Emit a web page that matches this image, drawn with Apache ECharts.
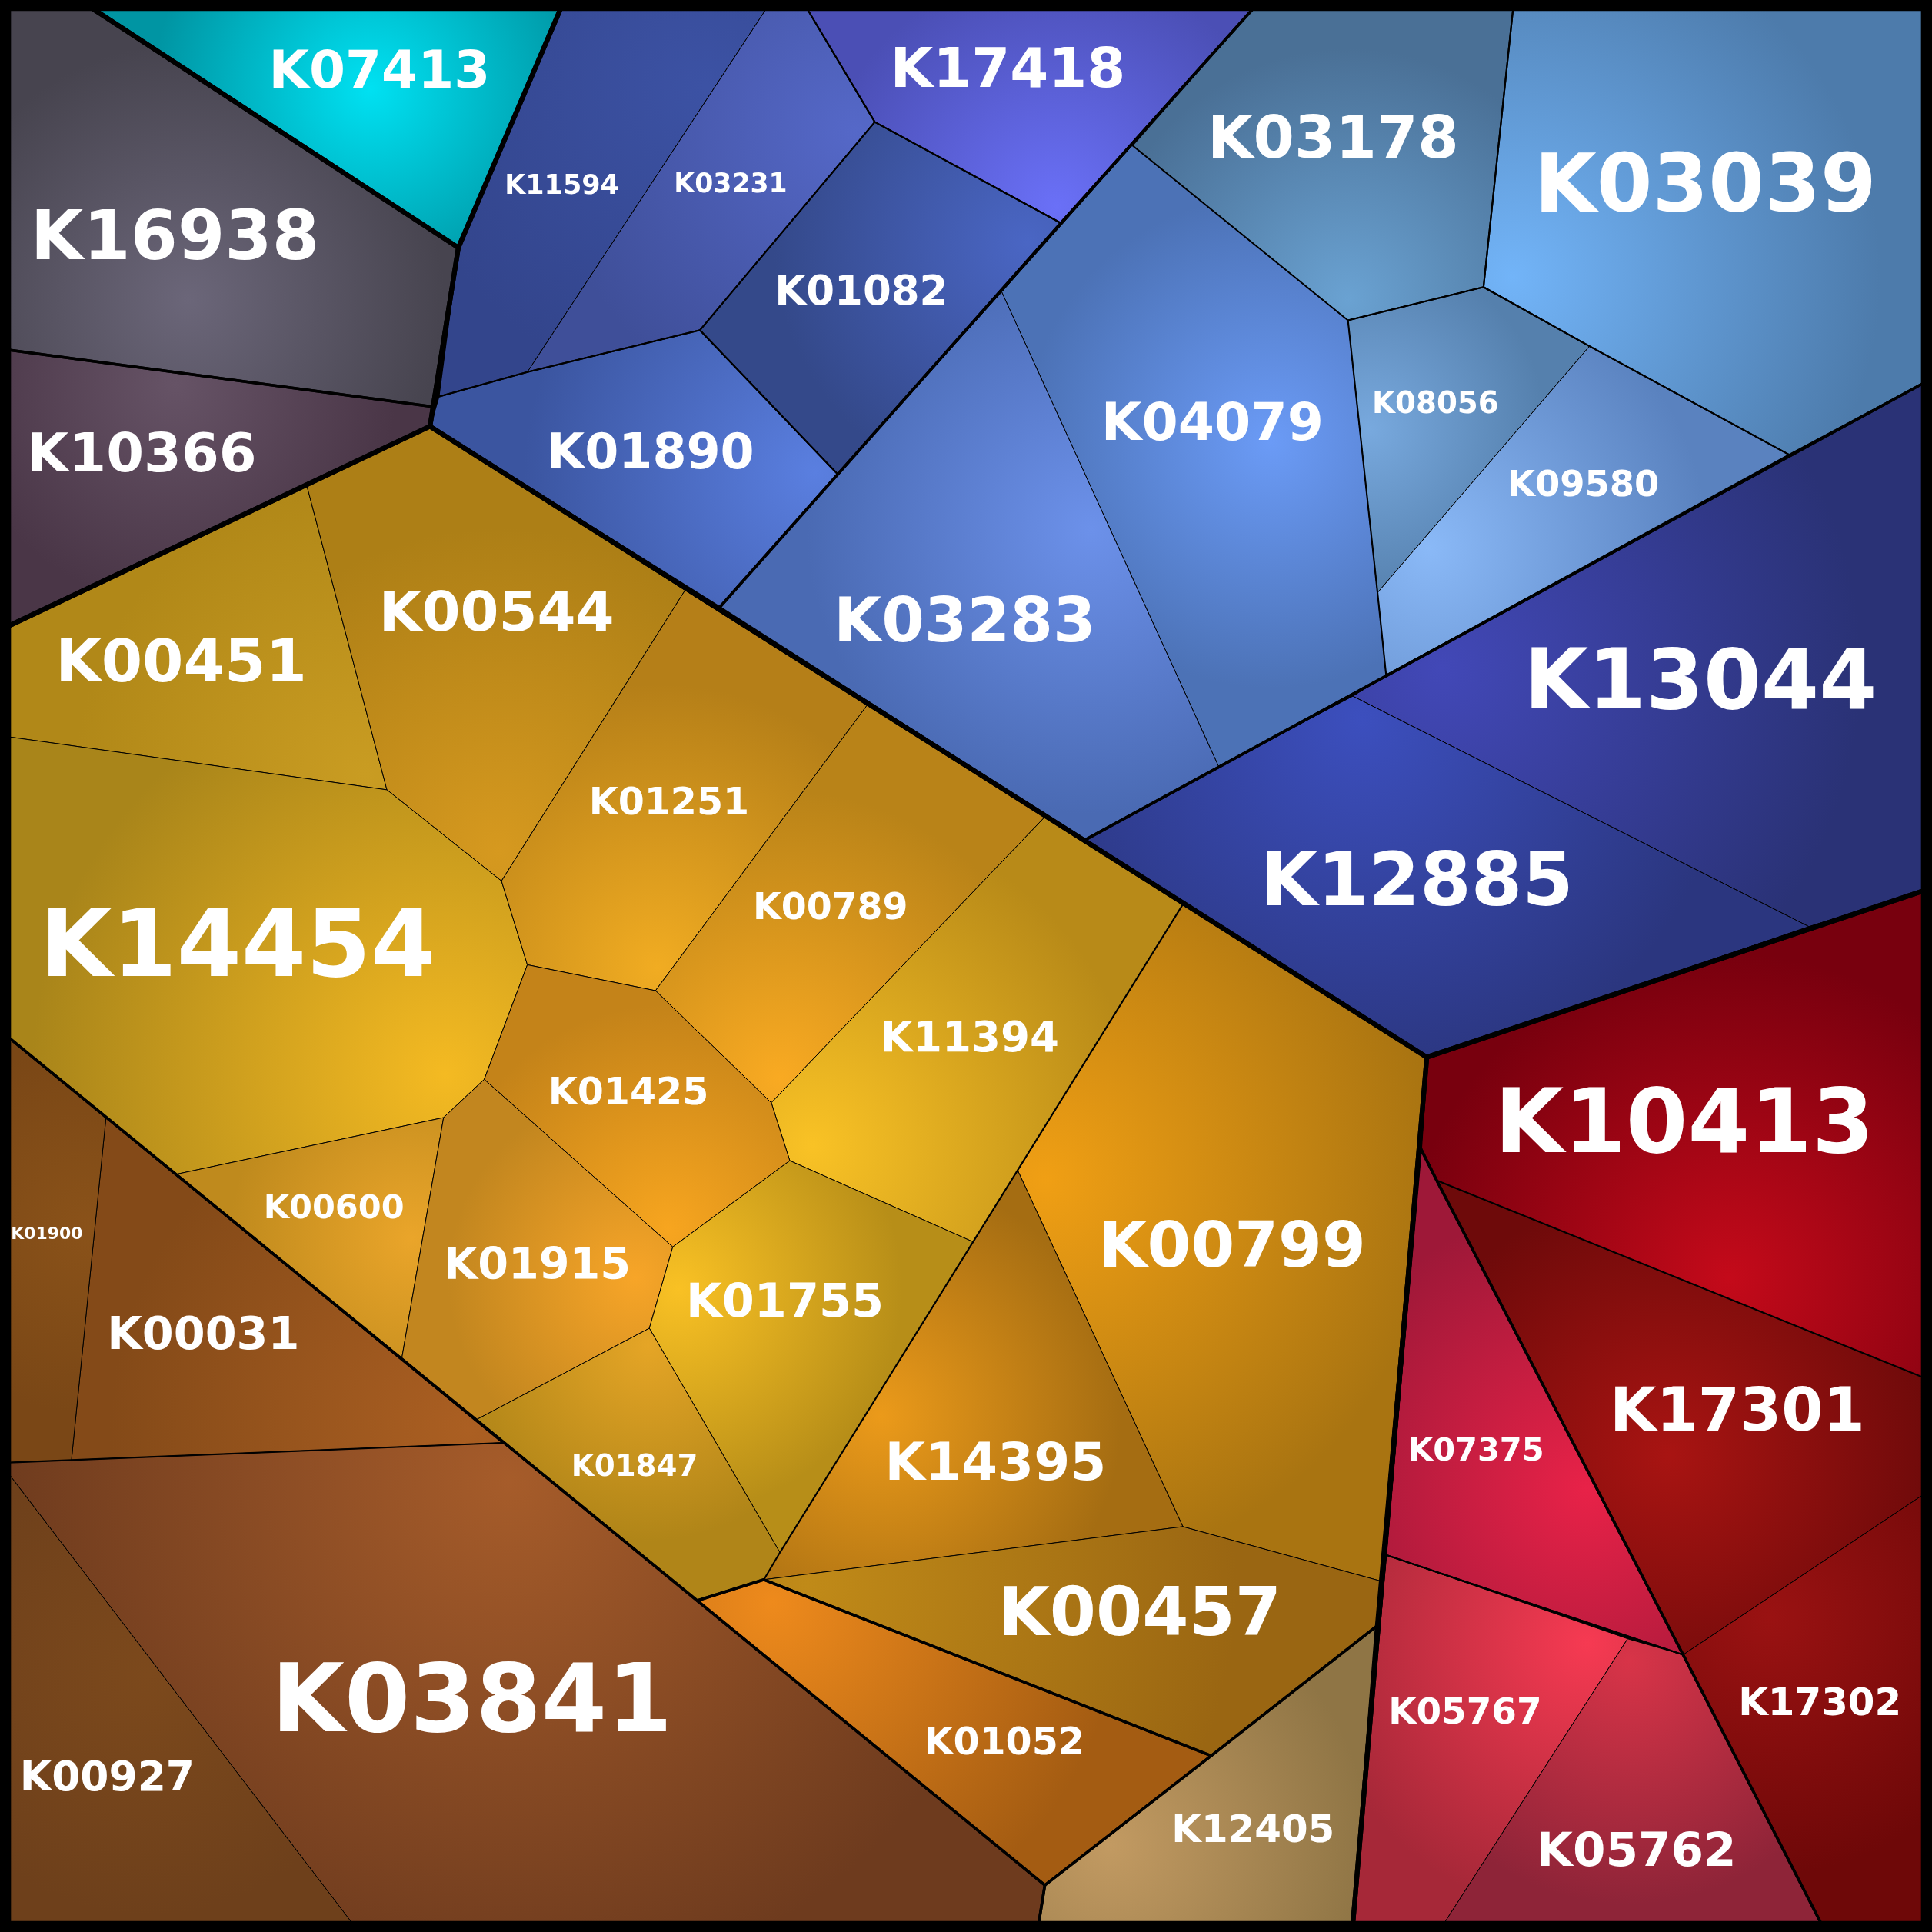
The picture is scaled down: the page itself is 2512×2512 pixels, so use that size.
<!DOCTYPE html>
<html><head><meta charset="utf-8">
<script src="https://cdn.jsdelivr.net/npm/echarts@6/dist/echarts.min.js"></script>
<style>html,body{margin:0;padding:0;background:#000}#c{width:2512px;height:2512px}</style>
</head><body><div id="c"></div>
<script>
// ---- DATA (coordinates in the layout's own 0..1568 units) ----
const names = ["K16938","K07413","K10366","K11594","K03231","K17418","K01082","K01890","K03178","K03039","K04079","K08056","K09580","K03283","K13044","K12885","K00451","K00544","K14454","K01251","K00789","K11394","K01425","K00600","K01915","K01755","K01847","K00799","K14395","K00457","K01052","K12405","K00031","K01900","K03841","K00927","K10413","K17301","K17302","K07375","K05767","K05762"];
const topGroup = ["grey","cyan","grey","blue","blue","blue","blue","blue","blue","blue","blue","blue","blue","blue","blue","blue","orange","orange","orange","orange","orange","orange","orange","orange","orange","orange","orange","orange","orange","orange","orange","orange","orange","orange","orange","orange","red","red","red","red","red","red"];
const values = [54,41.4,43,21.4,21.2,44,32.4,38.8,47,64,41.6,23.7,28.4,49,66,58.5,47,44,74,30,29,33.4,30,26.3,35,37,23.7,50,41.4,53,30,30.5,36,13.4,75,32.7,71,47.7,30.5,25.4,28.7,37.4];
const polygons = [
 [[7,7],[75,7],[372,201],[351,330],[7,284]],
 [[75,7],[455,7],[372,201]],
 [[7,284],[351,330],[349,346],[7,508]],
 [[372,201],[455,7],[622,7],[428,302],[356,322]],
 [[622,7],[655,7],[710,99],[568,268],[428,302]],
 [[655,7],[1017,7],[861,181],[710,99]],
 [[710,99],[861,181],[680,385],[568,268]],
 [[356,322],[428,302],[568,268],[680,385],[584,493],[349,346]],
 [[1017,7],[1228,7],[1204,233],[1094,260],[919,118]],
 [[1228,7],[1561,7],[1561,311],[1452,369],[1290,281],[1204,233]],
 [[919,118],[1094,260],[1118,481],[1125,548],[989,622],[813,237]],
 [[1094,260],[1204,233],[1290,281],[1118,481]],
 [[1290,281],[1452,369],[1125,548],[1118,481]],
 [[680,385],[813,237],[989,622],[880,682],[584,493]],
 [[1125,548],[1452,369],[1561,311],[1561,723],[1468,752],[1098,565]],
 [[880,682],[989,622],[1098,565],[1468,752],[1158,858]],
 [[7,508],[249,394],[314,641],[7,598]],
 [[249,394],[349,346],[556,479],[407,715],[314,641]],
 [[7,598],[314,641],[407,715],[428,783],[393,876],[360,907],[143,953],[7,842]],
 [[556,479],[704,572],[532,804],[428,783],[407,715]],
 [[704,572],[848,663],[626,895],[532,804]],
 [[848,663],[960,734],[790,1008],[641,942],[626,895]],
 [[428,783],[532,804],[626,895],[641,942],[546,1012],[393,876]],
 [[143,953],[360,907],[326,1103]],
 [[360,907],[393,876],[546,1012],[527,1078],[387,1152],[326,1103]],
 [[546,1012],[641,942],[790,1008],[633,1260],[527,1078]],
 [[387,1152],[527,1078],[633,1260],[620,1282],[566,1299]],
 [[960,734],[1158,858],[1120,1283],[960,1239],[826,950]],
 [[826,950],[960,1239],[620,1282],[633,1260],[790,1008]],
 [[620,1282],[960,1239],[1120,1283],[1117,1320],[983,1425]],
 [[566,1299],[620,1282],[983,1425],[848,1530]],
 [[848,1530],[983,1425],[1117,1320],[1098,1561],[843,1561]],
 [[86,907],[408,1171],[58,1185]],
 [[7,842],[86,907],[58,1185],[7,1187]],
 [[7,1187],[58,1185],[408,1171],[848,1530],[843,1561],[286,1561],[7,1196]],
 [[7,1196],[286,1561],[7,1561]],
 [[1158,858],[1561,723],[1561,1118],[1166,958],[1153,932]],
 [[1166,958],[1561,1118],[1561,1213],[1366,1343]],
 [[1366,1343],[1561,1213],[1561,1561],[1478,1561]],
 [[1153,932],[1166,958],[1366,1343],[1125,1262]],
 [[1125,1262],[1321,1330],[1172,1561],[1098,1561]],
 [[1321,1330],[1366,1343],[1478,1561],[1172,1561]]
];
const sites = [[142,192],[308,57],[115,368],[456,150],[593,149],[818,56],[699,236],[528,367],[1082,112],[1384,150],[984,343],[1165,327],[1285,393],[783,504],[1380,553],[1150,715],[147,537],[403,497],[193,767],[543,651],[674,736],[787,842],[510,886],[271,980],[436,1026],[637,1056],[515,1190],[1000,1011],[808,1187],[925,1309],[815,1414],[1017,1485],[165,1083],[38,1001],[383,1380],[87,1442],[1367,911],[1410,1145],[1477,1382],[1198,1177],[1189,1389],[1328,1502]];
const centerColors = ["#6b6679","#00e1f2","#665366","#3c52a4","#5568c8","#6a70f7","#4a66c4","#5a7fe0","#6aa2d2","#72b4f8","#6b9bf6","#78a9de","#8ab9f7","#6c91ea","#4248b7","#3c4fbe","#c99c22","#d6991f","#f4ba22","#f1ac22","#f9aa22","#f9c225","#f7a51f","#eaa52a","#f7a528","#f9c124","#e5a526","#f09f14","#eb9a1a","#c08a18","#ee8a1c","#c29a62","#ab5f22","#8a5219","#a65c2a","#7c491c","#c40a1a","#a81412","#9a1212","#e82248","#f63a52","#d83448"];
const edgeColors = ["#47444f","#0095a3","#4a3647","#33458c","#3f4f99","#4b4fb5","#34498a","#3b55a0","#4a7096","#4d7bab","#4c72b6","#5580ad","#5a82bf","#4a6ab3","#2a3276","#2b367f","#b18818","#ad7f16","#a9851a","#b57f18","#b98318","#b88a18","#c48319","#bf8a1d","#c2861f","#b78e18","#b08518","#a97411","#a56d12","#9a6612","#a45c12","#8f7545","#844a18","#7a4716","#6e3b1e","#6e401b","#78000e","#6e0a0a","#6e0808","#9e1838","#a62838","#8e2438"];
// group outlines by hierarchy level
const outlinesL1Keys = ["grey","cyan","blue","orange","red"];
const outlinesL1 = [
 [[7,7],[75,7],[372,201],[349,346],[7,508]],
 [[75,7],[455,7],[372,201]],
 [[372,201],[455,7],[1561,7],[1561,723],[1158,858],[349,346]],
 [[7,508],[349,346],[1158,858],[1098,1561],[7,1561]],
 [[1158,858],[1561,723],[1561,1561],[1098,1561]]
];
const outlinesL2 = [
 [[7,7],[75,7],[372,201],[351,330],[7,284]],
 [[7,284],[351,330],[349,346],[7,508]],
 [[372,201],[455,7],[1017,7],[861,181],[584,493],[349,346]],
 [[1017,7],[1561,7],[1561,311],[880,682],[584,493],[861,181]],
 [[1561,311],[1561,723],[1158,858],[880,682]],
 [[7,508],[349,346],[1158,858],[1117,1320],[983,1425],[620,1282],[566,1299],[7,842]],
 [[7,842],[848,1530],[843,1561],[7,1561]],
 [[566,1299],[620,1282],[983,1425],[848,1530]],
 [[848,1530],[983,1425],[1117,1320],[1098,1561],[843,1561]],
 [[1158,858],[1561,723],[1561,1561],[1478,1561],[1366,1343],[1166,958],[1153,932]],
 [[1153,932],[1166,958],[1366,1343],[1478,1561],[1098,1561]]
];
const outlinesL3 = [
 [[372,201],[455,7],[655,7],[710,99],[568,268],[428,302],[356,322]],
 [[655,7],[1017,7],[861,181],[710,99]],
 [[710,99],[861,181],[680,385],[568,268]],
 [[356,322],[428,302],[568,268],[680,385],[584,493],[349,346]],
 [[1017,7],[1228,7],[1204,233],[1094,260],[919,118]],
 [[1228,7],[1561,7],[1561,311],[1452,369],[1290,281],[1204,233]],
 [[1094,260],[1204,233],[1290,281],[1452,369],[1125,548],[1118,481]],
 [[960,734],[1158,858],[1117,1320],[983,1425],[620,1282],[633,1260]],
 [[7,842],[408,1171],[7,1187]],
 [[1158,858],[1561,723],[1561,1118],[1166,958],[1153,932]],
 [[1153,932],[1166,958],[1366,1343],[1125,1262]],
 [[1125,1262],[1366,1343],[1478,1561],[1098,1561]]
];

// ---- helpers ----
function centroid(poly){let a=0,cx=0,cy=0;for(let i=0;i<poly.length;i++){const p=poly[i],q=poly[(i+1)%poly.length];const c=p[0]*q[1]-q[0]*p[1];a+=c;cx+=(p[0]+q[0])*c;cy+=(p[1]+q[1])*c;}a/=2;return [cx/(6*a),cy/(6*a)];}
function inside(p,poly){let r=false;for(let i=0,j=poly.length-1;i<poly.length;j=i++){const a=poly[i],b=poly[j];if(((a[1]>p[1])!==(b[1]>p[1]))&&(p[0]<(b[0]-a[0])*(p[1]-a[1])/(b[1]-a[1])+a[0]))r=!r;}return r;}
function closest(p,poly){let best=null,bd=1e18;for(let i=0;i<poly.length;i++){const a=poly[i],b=poly[(i+1)%poly.length];const dx=b[0]-a[0],dy=b[1]-a[1];let t=((p[0]-a[0])*dx+(p[1]-a[1])*dy)/(dx*dx+dy*dy);t=Math.max(0,Math.min(1,t));const x=a[0]+t*dx,y=a[1]+t*dy;const d=(x-p[0])**2+(y-p[1])**2;if(d<bd){bd=d;best=[x,y];}}return best;}
const light = {};
outlinesL1Keys.forEach((k,i)=>{light[k]=centroid(outlinesL1[i]);});

const chart = echarts.init(document.getElementById('c'), null, {renderer:'canvas'});
function outlineSeries(list, width, z){
  return {type:'custom', coordinateSystem:'cartesian2d', z:z, silent:true, clip:false, animation:false,
    data: list.map((_,i)=>[i,i]),
    renderItem:(params, api)=>{
      const poly = list[params.dataIndex];
      return {type:'polygon', shape:{points: poly.map(p=>api.coord(p))},
        style:{fill:null, stroke:'#000', lineWidth:width, lineJoin:'round'}};
    }};
}
const option = {
  backgroundColor:'#000',
  animation:false,
  grid:{left:0,right:0,top:0,bottom:0},
  xAxis:{type:'value',min:0,max:1568,show:false},
  yAxis:{type:'value',min:0,max:1568,inverse:true,show:false},
  series:[
    {type:'custom', coordinateSystem:'cartesian2d', z:1, silent:true, clip:false, animation:false,
     data: names.map((_,i)=>[i,i]),
     renderItem:(params, api)=>{
       const i = params.dataIndex, poly = polygons[i];
       const pts = poly.map(p=>api.coord(p));
       const L = light[topGroup[i]], c0 = centroid(poly);
       let g = inside(L,poly) ? L.slice() : closest(L,poly);
       g = [g[0]+0.12*(c0[0]-g[0]), g[1]+0.12*(c0[1]-g[1])];
       const gp = api.coord(g);
       let r = 0; pts.forEach(p=>{r=Math.max(r,Math.hypot(p[0]-gp[0],p[1]-gp[1]));});
       return {type:'polygon', shape:{points:pts},
         style:{fill:{type:'radial',x:gp[0],y:gp[1],r:r*0.75,global:true,
           colorStops:[{offset:0,color:centerColors[i]},{offset:1,color:edgeColors[i]}]},
           stroke:'#000', lineWidth:1.0, lineJoin:'round'}};
     }},
    outlineSeries(outlinesL3, 2.1, 2),
    outlineSeries(outlinesL2, 3.6, 3),
    outlineSeries(outlinesL1, 6.2, 4),
    {type:'custom', coordinateSystem:'cartesian2d', z:10, silent:true, clip:false, animation:false,
     data: names.map((_,i)=>[i,i]),
     renderItem:(params, api)=>{
       const i = params.dataIndex;
       const p = api.coord(sites[i]);
       const fs = api.size([values[i]*1.02,0])[0];
       return {type:'text', x:p[0], y:p[1] + fs*0.07,
         style:{text:names[i], fill:'#fff', fontSize:fs, fontWeight:'bold', fontFamily:'DejaVu Sans',
           align:'center', verticalAlign:'middle',
           shadowColor:'rgba(0,0,0,0.6)', shadowBlur:3, shadowOffsetX:2, shadowOffsetY:2}};
     }}
  ]
};
chart.setOption(option);
</script></body></html>
